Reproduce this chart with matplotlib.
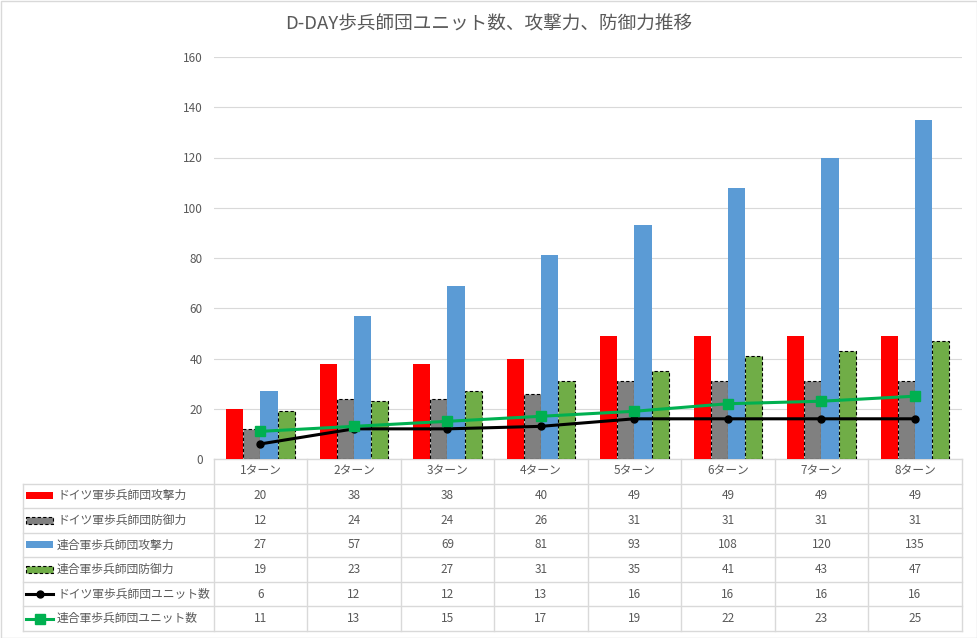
import matplotlib
matplotlib.use("Agg")
import matplotlib.pyplot as plt
from matplotlib.patches import Rectangle
from matplotlib.lines import Line2D

plt.rcParams["font.family"] = ["Noto Sans CJK JP", "DejaVu Sans"]

TITLE = "D-DAY歩兵師団ユニット数、攻撃力、防御力推移"
TURNS = ["1ターン", "2ターン", "3ターン", "4ターン", "5ターン", "6ターン", "7ターン", "8ターン"]
GER_ATK = [20, 38, 38, 40, 49, 49, 49, 49]
GER_DEF = [12, 24, 24, 26, 31, 31, 31, 31]
ALL_ATK = [27, 57, 69, 81, 93, 108, 120, 135]
ALL_DEF = [19, 23, 27, 31, 35, 41, 43, 47]
GER_UNITS = [6, 12, 12, 13, 16, 16, 16, 16]
ALL_UNITS = [11, 13, 15, 17, 19, 22, 23, 25]
SERIES_NAMES = ["ドイツ軍歩兵師団攻撃力", "ドイツ軍歩兵師団防御力", "連合軍歩兵師団攻撃力",
                "連合軍歩兵師団防御力", "ドイツ軍歩兵師団ユニット数", "連合軍歩兵師団ユニット数"]
Y_TICKS = [0, 20, 40, 60, 80, 100, 120, 140, 160]

W, H = 977, 638
TXT = "#595959"
GRID = "#d9d9d9"

fig = plt.figure(figsize=(W / 100, H / 100), dpi=100)

# plot area in pixels
px_l, px_r, px_t, px_b = 213.7, 961.7, 57, 459
ax = fig.add_axes([px_l / W, 1 - px_b / H, (px_r - px_l) / W, (px_b - px_t) / H])

n = len(TURNS)
x = list(range(n))
bw = 0.184
bars = [
    (GER_ATK, "#FF0000", False),
    (GER_DEF, "#808080", True),
    (ALL_ATK, "#5B9BD5", False),
    (ALL_DEF, "#70AD47", True),
]
for i, (vals, col, dashed) in enumerate(bars):
    xs = [xi + (i - 1.5) * bw for xi in x]
    if dashed:
        ax.bar(xs, vals, width=bw, color=col, edgecolor="black", linewidth=0.8,
               linestyle=(0, (3, 2)), zorder=3)
    else:
        ax.bar(xs, vals, width=bw, color=col, linewidth=0, zorder=3)

ax.plot(x, GER_UNITS, color="black", lw=2.2, marker="o", ms=5, zorder=4)
ax.plot(x, ALL_UNITS, color="#00B050", lw=2.2, marker="s", ms=7, zorder=5)

ax.set_xlim(-0.5, n - 0.5)
ax.set_ylim(0, 160)
ax.set_yticks(Y_TICKS)
ax.set_xticks([])
ax.tick_params(axis="y", length=0, pad=8, labelsize=8.5, labelcolor=TXT)
ax.grid(axis="y", color=GRID, lw=0.8, zorder=0)
for s in ax.spines.values():
    s.set_visible(False)
ax.set_facecolor("none")

# overlay in pixel coordinates for the data table
ov = fig.add_axes([0, 0, 1, 1], zorder=-1)
ov.set_xlim(0, W)
ov.set_ylim(H, 0)
ov.axis("off")

fig.text(0.5, 1 - 25 / H, TITLE, ha="center", va="center", fontsize=13.4, color=TXT)

col_w = (px_r - px_l) / n
tab_l = 22.7
head_b = 483.5
row_h = (631 - head_b) / 6
rows_y = [head_b + k * row_h for k in range(7)]

# horizontal lines
ov.plot([px_l, px_r], [px_b, px_b], color=GRID, lw=1)
for yy in rows_y:
    ov.plot([tab_l, px_r], [yy, yy], color=GRID, lw=1)
# vertical lines
ov.plot([tab_l, tab_l], [head_b, rows_y[-1]], color=GRID, lw=1)
for k in range(n + 1):
    xx = px_l + k * col_w
    ov.plot([xx, xx], [px_b, rows_y[-1]], color=GRID, lw=1)

for k, lab in enumerate(TURNS):
    ov.text(px_l + (k + 0.5) * col_w, (px_b + head_b) / 2, lab, ha="center",
            va="center", fontsize=8.5, color=TXT)

table_vals = [GER_ATK, GER_DEF, ALL_ATK, ALL_DEF, GER_UNITS, ALL_UNITS]
for r, vals in enumerate(table_vals):
    cy = rows_y[r] + row_h / 2
    for k, v in enumerate(vals):
        ov.text(px_l + (k + 0.5) * col_w, cy, str(v), ha="center", va="center",
                fontsize=8.5, color=TXT)
    ov.text(57, cy, SERIES_NAMES[r], ha="left", va="center", fontsize=8.5, color=TXT)
    # legend keys
    if r < 4:
        col, dashed = bars[r][1], bars[r][2]
        if dashed:
            ov.add_patch(Rectangle((26, cy - 3.5), 27, 7, facecolor=col, edgecolor="black",
                                   lw=0.8, linestyle=(0, (3, 2))))
        else:
            ov.add_patch(Rectangle((26, cy - 3.5), 27, 7, facecolor=col, lw=0))
    elif r == 4:
        ov.add_line(Line2D([26, 53], [cy, cy], color="black", lw=2.2))
        ov.plot([39.5], [cy], marker="o", ms=5, color="black")
    else:
        ov.add_line(Line2D([26, 53], [cy, cy], color="#00B050", lw=2.2))
        ov.plot([39.5], [cy], marker="s", ms=7, color="#00B050")

# chart border
ov.add_patch(Rectangle((0.5, 0.5), W - 1, H - 1, fill=False, edgecolor=GRID, lw=1))

fig.savefig("out.png", dpi=100)
